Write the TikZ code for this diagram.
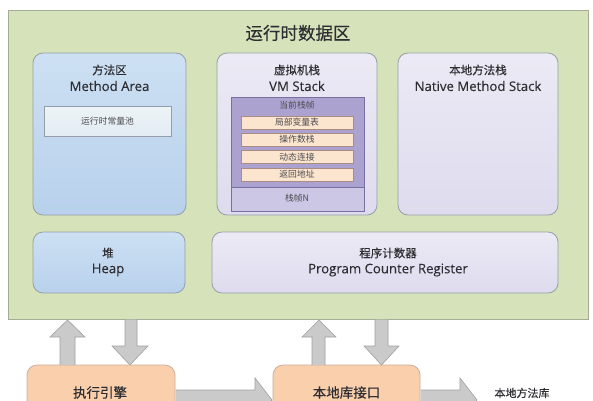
\documentclass[tikz,border=0pt]{standalone}
\usepackage{fontspec}
\setmainfont{Noto Sans CJK SC}
\newfontfamily\cjkb[FakeBold=0.22]{Noto Sans CJK SC}
\newfontfamily\latin[FakeBold=0.15]{Open Sans}
\usetikzlibrary{positioning}
\definecolor{greenbg}{RGB}{214,226,185}
\definecolor{greenbd}{RGB}{165,172,150}
\definecolor{boxbd}{RGB}{150,158,168}
\definecolor{bluetop}{RGB}{205,224,243}
\definecolor{bluebot}{RGB}{184,209,236}
\definecolor{lavtop}{RGB}{236,234,245}
\definecolor{lavbot}{RGB}{222,219,238}
\definecolor{purpl}{RGB}{172,162,207}
\definecolor{purplite}{RGB}{204,199,228}
\definecolor{purbd}{RGB}{120,112,160}
\definecolor{itemfill}{RGB}{252,229,206}
\definecolor{itembd}{RGB}{170,140,130}
\definecolor{poolfill}{RGB}{226,236,242}
\definecolor{orfill}{RGB}{249,207,172}
\definecolor{orbd}{RGB}{205,175,155}
\definecolor{arrfill}{RGB}{202,202,202}
\definecolor{arrbd}{RGB}{160,160,160}
\definecolor{txt}{RGB}{45,45,50}
\tikzset{
  base/.style={inner sep=0pt, outer sep=0pt, anchor=north west},
  bluebox/.style={base, draw=boxbd, line width=0.8pt, rounded corners=10pt, top color=bluetop, bottom color=bluebot},
  lavbox/.style={base, draw=boxbd, line width=0.8pt, rounded corners=10pt, top color=lavtop, bottom color=lavbot},
  orbox/.style={base, draw=orbd, line width=0.8pt, rounded corners=10pt, fill=orfill},
  itembox/.style={base, draw=itembd, line width=0.5pt, fill=itemfill, minimum width=112pt, minimum height=13pt},
  ttl/.style={text=txt, font=\cjkb\fontsize{11.5}{13}\selectfont, inner sep=0pt},
  lat/.style={text=txt, font=\latin\fontsize{13.2}{15}\selectfont, inner sep=0pt},
  big/.style={text=txt, font=\cjkb\fontsize{13.5}{15}\selectfont, inner sep=0pt},
  small/.style={text=txt!85, font=\fontsize{8.8}{10}\selectfont, inner sep=0pt},
  blockarrow/.style={draw=arrbd, fill=arrfill, line width=0.6pt, line join=miter},
}
\begin{document}
\begin{tikzpicture}[x=1pt,y=-1pt]
\useasboundingbox (0,0) rectangle (593,400);
\clip (0,0) rectangle (593,400);
\fill[white] (0,0) rectangle (593,400);
% main area
\node[base, draw=greenbd, fill=greenbg, line width=0.8pt, minimum width=580pt, minimum height=309pt] (rda) at (8,10) {};
\node[text=txt, font=\cjkb\fontsize{17.5}{19}\selectfont, inner sep=0pt] (rdat) at (298,33) {运行时数据区};
% method area
\node[bluebox, minimum width=153pt, minimum height=162pt] (ma) at (33,53) {};
\node[ttl] (mat1) at (109.5,70) {方法区};
\node[lat] (mat2) at (109.5,86) {Method Area};
\node[base, draw=boxbd, line width=0.6pt, top color=poolfill!60!white, bottom color=poolfill, minimum width=127pt, minimum height=30pt] (pool) at (44,106) {};
\node[small] at (pool.center) {运行时常量池};
% VM stack
\node[lavbox, minimum width=160pt, minimum height=162pt] (vm) at (217,53) {};
\node[ttl] (vmt1) at (297,70) {虚拟机栈};
\node[lat] (vmt2) at (297,86) {VM Stack};
\node[base, draw=purbd, line width=0.6pt, fill=purplite, minimum width=133pt, minimum height=114pt] (frames) at (231,97) {};
\node[base, fill=purpl, minimum width=132pt, minimum height=90pt] (cur) at (231.5,97.5) {};
\draw[purbd, line width=0.5pt] (cur.south west) -- (cur.south east);
\node[small] (curt) at (297,105) {当前栈帧};
\node[itembox] (i1) at (241,116) {};
\node[small] at (i1.center) {局部变量表};
\node[itembox] (i2) at (241,133) {};
\node[small] at (i2.center) {操作数栈};
\node[itembox] (i3) at (241,150.5) {};
\node[small] at (i3.center) {动态连接};
\node[itembox] (i4) at (241,168) {};
\node[small] at (i4.center) {返回地址};
\node[small] (fn) at (297,198) {栈帧N};
% native method stack
\node[lavbox, minimum width=160pt, minimum height=162pt] (nms) at (398,53) {};
\node[ttl] (nmst1) at (478,70) {本地方法栈};
\node[lat] (nmst2) at (478,86) {Native Method Stack};
% heap
\node[bluebox, minimum width=152pt, minimum height=61pt] (heap) at (33,232) {};
\node[ttl] (ht1) at (108,253) {堆};
\node[lat] (ht2) at (108,270) {Heap};
% pc register
\node[lavbox, minimum width=346pt, minimum height=61pt] (pc) at (212,232) {};
\node[ttl] (pct1) at (388,253) {程序计数器};
\node[lat] (pct2) at (388,270) {Program Counter Register};
% bottom boxes
\node[orbox, minimum width=148pt, minimum height=60pt] (exec) at (27,365) {};
\node[big] (exect) at (100,392.5) {执行引擎};
\node[orbox, minimum width=147pt, minimum height=60pt] (nif) at (273,365) {};
\node[big] (nift) at (346.5,392.5) {本地库接口};
\node[text=txt, font=\cjkb\fontsize{11}{13}\selectfont, inner sep=0pt] (nlib) at (522,393) {本地方法库};
% vertical arrows
\draw[blockarrow] (60,365) -- (60,337) -- (50,337) -- (67.5,320) -- (85,337) -- (75,337) -- (75,365);
\draw[blockarrow] (125,319.5) -- (125,346) -- (112,346) -- (130,365) -- (148,346) -- (137,346) -- (137,319.5);
\draw[blockarrow] (312,365) -- (312,337) -- (302,337) -- (319,320) -- (336,337) -- (325,337) -- (325,365);
\draw[blockarrow] (375,319.5) -- (375,346) -- (364,346) -- (381.5,365) -- (399,346) -- (388,346) -- (388,319.5);
% horizontal arrows
\draw[blockarrow] (175.5,390) -- (255,390) -- (255,378) -- (272,400) -- (255,422) -- (255,410) -- (175.5,410);
\draw[blockarrow] (420.5,390) -- (460,390) -- (460,378) -- (477,400) -- (460,422) -- (460,410) -- (420.5,410);
\end{tikzpicture}
\end{document}
